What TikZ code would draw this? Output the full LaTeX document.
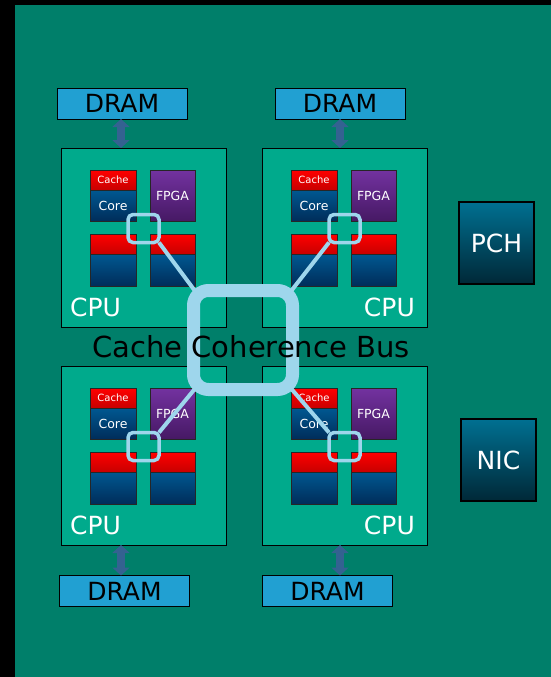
\documentclass[tikz,border=0pt]{standalone}
\usepackage{fontspec}
\setmainfont{DejaVu Sans}
\usetikzlibrary{arrows.meta,calc}
\definecolor{bgteal}{RGB}{0,127,106}
\definecolor{cputeal}{RGB}{0,170,140}
\definecolor{dramblue}{RGB}{33,160,210}
\definecolor{busblue}{RGB}{158,214,236}
\definecolor{arrblue}{RGB}{52,98,145}
\definecolor{coretop}{RGB}{0,88,145}
\definecolor{corebot}{RGB}{0,45,90}
\definecolor{redtop}{RGB}{255,0,0}
\definecolor{redbot}{RGB}{200,0,0}
\definecolor{fpgatop}{RGB}{115,50,160}
\definecolor{fpgabot}{RGB}{70,25,100}
\definecolor{iotop}{RGB}{0,112,145}
\definecolor{iobot}{RGB}{0,40,55}
\tikzset{
 cpubox/.style={draw=black, line width=1pt, fill=cputeal, minimum width=165pt, minimum height=179pt, anchor=north west, inner sep=0pt, outer sep=0pt},
 blk/.style={draw=black!85, line width=0.8pt, anchor=north west, inner sep=0pt, outer sep=0pt, minimum width=46pt, text=white},
 cacheblk/.style={blk, top color=redtop, bottom color=redbot, minimum height=20pt, font=\fontsize{10}{12}\selectfont},
 coreblk/.style={blk, top color=coretop, bottom color=corebot, minimum height=31pt, font=\fontsize{12.5}{14}\selectfont},
 lowblk/.style={blk, top color=coretop, bottom color=corebot, minimum height=32pt},
 fpgablk/.style={blk, top color=fpgatop, bottom color=fpgabot, minimum width=45pt, minimum height=51pt, font=\fontsize{12.5}{14}\selectfont},
 cpulabel/.style={text=white, font=\fontsize{25}{30}\selectfont, inner sep=0pt},
 dram/.style={draw=black, line width=1pt, fill=dramblue, minimum width=130pt, minimum height=31pt, inner sep=0pt, outer sep=0pt, font=\fontsize{25}{30}\selectfont},
 iobox/.style={draw=black, line width=1.2pt, top color=iotop, bottom color=iobot, minimum width=75pt, minimum height=82pt, inner sep=0pt, outer sep=0pt, text=white, font=\fontsize{25}{30}\selectfont},
 dblarrow/.style={draw=arrblue, line width=8pt, {Triangle[width=17pt,length=8pt]}-{Triangle[width=17pt,length=8pt]}},
 snoop/.style={draw=busblue, line width=3.5pt, rounded corners=5pt, minimum width=31pt, minimum height=28pt, inner sep=0pt, outer sep=0pt},
 busline/.style={draw=busblue, line width=4pt},
 busring/.style={draw=busblue, line width=13pt, rounded corners=15pt, minimum size=99pt, inner sep=0pt, outer sep=0pt},
}
\newcommand{\mkcpu}[5]{%
 \node[cpubox] (#1) at (#2,#3) {};
 \node[cacheblk] (#1cache) at (#2+29,#3+22) {Cache};
 \node[coreblk] (#1core) at (#2+29,#3+42) {Core};
 \node[fpgablk] (#1fpga) at (#2+89,#3+22) {FPGA};
 \node[cacheblk] (#1lca) at (#2+29,#3+86) {};
 \node[lowblk] (#1lco) at (#2+29,#3+106) {};
 \node[cacheblk, minimum width=45pt] (#1rca) at (#2+89,#3+86) {};
 \node[lowblk, minimum width=45pt] (#1rco) at (#2+89,#3+106) {};
 \node[cpulabel, anchor=#4] (#1label) at (#2+#5,#3+168) {CPU};
 \node[snoop] (#1snoop) at (#2+82.5,#3+80.5) {};
}
\begin{document}
\begin{tikzpicture}[x=1pt,y=-1pt]
\useasboundingbox (0,0) rectangle (551,677);
\fill[black] (0,0) rectangle (551,677);
\fill[bgteal] (15,5) rectangle (551,677);
% CPUs
\mkcpu{TL}{61}{148}{base west}{9}
\mkcpu{TR}{262}{148}{base east}{153}
\mkcpu{BL}{61}{366}{base west}{9}
\mkcpu{BR}{262}{366}{base east}{153}
% DRAMs
\node[dram] (dramTL) at (122,103.5) {DRAM};
\node[dram] (dramTR) at (340,103.5) {DRAM};
\node[dram] (dramBL) at (124.5,591) {DRAM};
\node[dram] (dramBR) at (327.5,591) {DRAM};
\coordinate (axL) at (121,0);
\coordinate (axR) at (340,0);
\draw[dblarrow] (axL |- dramTL.south) -- (axL |- TL.north);
\draw[dblarrow] (axR |- dramTR.south) -- (axR |- TR.north);
\draw[dblarrow] (axL |- BL.south) -- (axL |- dramBL.north);
\draw[dblarrow] (axR |- BR.south) -- (axR |- dramBR.north);
% PCH / NIC
\node[iobox] (pch) at (496.5,243) {PCH};
\node[iobox] (nic) at (498.5,460) {NIC};
% bus
\coordinate (busc) at (243,340);
\coordinate (busNW) at ($(busc)+(-45,-45)$);
\coordinate (busNE) at ($(busc)+(45,-45)$);
\coordinate (busSW) at ($(busc)+(-45,45)$);
\coordinate (busSE) at ($(busc)+(45,45)$);
\draw[busline] (TLsnoop.south east) -- (busNW);
\draw[busline] (TRsnoop.south west) -- (busNE);
\draw[busline] (BLsnoop.north east) -- (busSW);
\draw[busline] (BRsnoop.north west) -- (busSE);
\node[busring] (bus) at (busc) {};
\node[font=\fontsize{29}{34}\selectfont, anchor=base, inner sep=0pt] (bustext) at (251,357) {Cache Coherence Bus};
\end{tikzpicture}
\end{document}
